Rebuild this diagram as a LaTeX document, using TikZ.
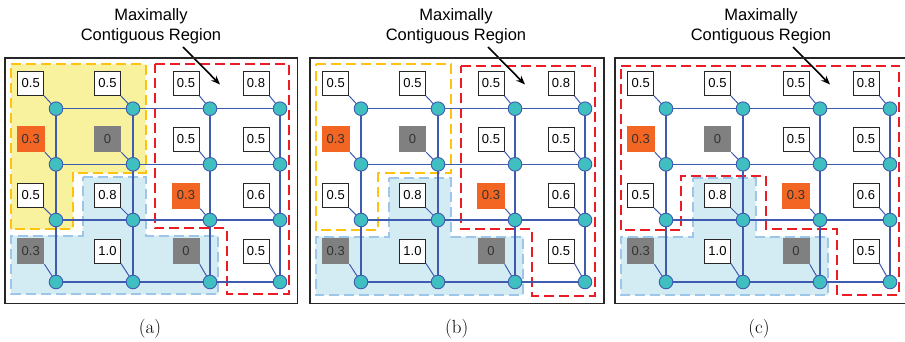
\documentclass[tikz,border=0pt]{standalone}
\usepackage{fontspec}
\newfontfamily\arial{Liberation Sans}
\usetikzlibrary{arrows.meta}
\definecolor{gridblue}{HTML}{3F5BB0}
\definecolor{vtxteal}{HTML}{3FBFC0}
\definecolor{redc}{HTML}{EC1C24}
\definecolor{yelc}{HTML}{FFC20E}
\definecolor{yelfill}{HTML}{F8F29E}
\definecolor{bluefill}{HTML}{D3ECF4}
\definecolor{bluedashc}{HTML}{9EC6E8}
\definecolor{orangec}{HTML}{F26522}
\definecolor{grayc}{HTML}{808080}
\tikzset{
  gridline/.style={draw=gridblue, line width=1.2pt},
  vtx/.style={circle, fill=vtxteal, draw=gridblue, line width=0.9pt, minimum size=13.6pt, inner sep=0pt},
  lbl/.style={inner sep=0pt, font=\arial\fontsize{13}{15}\selectfont},
  wbox/.style={lbl, draw=black!85, fill=white, line width=0.9pt, minimum width=26pt, minimum height=24pt},
  obox/.style={lbl, fill=orangec, text=black!80, minimum width=28pt, minimum height=26pt},
  gbox/.style={lbl, fill=grayc, text=black!80, minimum width=27pt, minimum height=26pt},
  reddash/.style={draw=redc, line width=2pt, dash pattern=on 10pt off 5pt},
  yeldash/.style={draw=yelc, line width=2pt, dash pattern=on 10pt off 5pt},
  bluedash/.style={draw=bluedashc, line width=2pt, dash pattern=on 10pt off 5pt},
  frame/.style={draw=black!85, line width=1.2pt},
  titletext/.style={inner sep=0pt, align=center, font=\arial\fontsize{16.5}{20.5}\selectfont},
  captext/.style={inner sep=0pt, font=\fontsize{19}{22}\selectfont},
  pointer/.style={draw=black, line width=1.6pt, -{Stealth[length=9pt,width=7pt]}},
}
\newcommand{\gridpanel}[1]{%
  % circles
  \foreach \r/\cy in {1/108.7,2/164.3,3/220,4/282}{
    \foreach \c/\cx in {1/51,2/128,3/205,4/275}{
      \coordinate (#1v\r\c) at (\cx,\cy);
    }
  }
  % grid lines
  \foreach \r in {1,...,4}{
    \draw[gridline] (#1v\r1) -- (#1v\r2) -- (#1v\r3) -- (#1v\r4);
    \draw[gridline] (#1v1\r) -- (#1v2\r) -- (#1v3\r) -- (#1v4\r);
  }
  % label boxes
  \foreach \r/\by in {1/83.5,2/139,3/195.5,4/251}{
    \foreach \c/\bx in {1/25.7,2/102.5,3/181,4/251}{
      \coordinate (#1p\r\c) at (\bx,\by);
    }
  }
  \node[wbox] (#1b11) at (#1p11) {0.5};
  \node[wbox] (#1b12) at (#1p12) {0.5};
  \node[wbox] (#1b13) at (#1p13) {0.5};
  \node[wbox] (#1b14) at (#1p14) {0.8};
  \node[obox] (#1b21) at (#1p21) {0.3};
  \node[gbox] (#1b22) at (#1p22) {0};
  \node[wbox] (#1b23) at (#1p23) {0.5};
  \node[wbox] (#1b24) at (#1p24) {0.5};
  \node[wbox] (#1b31) at (#1p31) {0.5};
  \node[wbox] (#1b32) at (#1p32) {0.8};
  \node[obox] (#1b33) at (#1p33) {0.3};
  \node[wbox] (#1b34) at (#1p34) {0.6};
  \node[gbox] (#1b41) at (#1p41) {0.3};
  \node[wbox] (#1b42) at (#1p42) {1.0};
  \node[gbox] (#1b43) at (#1p43) {0};
  \node[wbox] (#1b44) at (#1p44) {0.5};
  \foreach \r in {1,...,4}{
    \foreach \c in {1,...,4}{
      \draw[gridblue, line width=1pt] (#1b\r\c.south east) -- (#1v\r\c);
      \node[vtx] (#1n\r\c) at (#1v\r\c) {};
    }
  }
  % title, arrow
  \node[titletext, anchor=north] (#1title) at (146,8.2) {Maximally\\Contiguous Region};
  \coordinate (#1as) at (178,47);
  \coordinate (#1ae) at (215,84.5);
  \draw[pointer] (#1as) -- (#1ae);
}
\begin{document}
\begin{tikzpicture}[x=1pt,y=-1pt]
\useasboundingbox (0,0) rectangle (905,342);
\fill[white] (0,0) rectangle (905,342);
% ---------- panel (a)
\begin{scope}[xshift=5pt]
  \fill[yelfill] (6,64.5) -- (140.7,64.5) -- (140.7,172.5) -- (67.7,172.5) -- (67.7,229.3) -- (6,229.3) -- cycle;
  \fill[bluefill] (77.7,177.3) -- (140.7,177.3) -- (140.7,235.7) -- (213.3,235.7) -- (213.3,294.3) -- (6,294.3) -- (6,235.7) -- (77.7,235.7) -- cycle;
  \draw[yeldash] (6,64.5) -- (140.7,64.5) -- (140.7,172.5) -- (67.7,172.5) -- (67.7,229.3) -- (6,229.3) -- cycle;
  \draw[bluedash] (77.7,177.3) -- (140.7,177.3) -- (140.7,235.7) -- (213.3,235.7) -- (213.3,294.3) -- (6,294.3) -- (6,235.7) -- (77.7,235.7) -- cycle;
  \draw[reddash] (150,64.5) -- (284.3,64.5) -- (284.3,294.3) -- (221.7,294.3) -- (221.7,228.3) -- (150,228.3) -- cycle;
  \gridpanel{a}
  \draw[frame] (0,58) rectangle (292.5,303.3);
  \node[captext, anchor=base] (capa) at (145,333.5) {(a)};
\end{scope}
% ---------- panel (b)
\begin{scope}[xshift=310pt]
  \fill[bluefill] (79,178.3) -- (140.7,178.3) -- (140.7,236.7) -- (213.3,236.7) -- (213.3,295) -- (5.7,295) -- (5.7,236.7) -- (79,236.7) -- cycle;
  \draw[yeldash] (5.7,64.3) -- (140.7,64.3) -- (140.7,173.3) -- (68.3,173.3) -- (68.3,230) -- (5.7,230) -- cycle;
  \draw[bluedash] (79,178.3) -- (140.7,178.3) -- (140.7,236.7) -- (213.3,236.7) -- (213.3,295) -- (5.7,295) -- (5.7,236.7) -- (79,236.7) -- cycle;
  \draw[reddash] (151,65.7) -- (285,65.7) -- (285,295.5) -- (222.3,295.5) -- (222.3,229) -- (151,229) -- cycle;
  \gridpanel{b}
  \draw[frame] (0,58) rectangle (294,303.3);
  \node[captext, anchor=base] (capb) at (146.7,333.5) {(b)};
\end{scope}
% ---------- panel (c)
\begin{scope}[xshift=615pt]
  \fill[bluefill] (78.3,178.3) -- (140.7,178.3) -- (140.7,236.7) -- (213.3,236.7) -- (213.3,295) -- (5.7,295) -- (5.7,236.7) -- (78.3,236.7) -- cycle;
  \draw[bluedash] (78.3,178.3) -- (140.7,178.3) -- (140.7,236.7) -- (213.3,236.7) -- (213.3,295) -- (5.7,295) -- (5.7,236.7) -- (78.3,236.7) -- cycle;
  \draw[reddash] (5.7,65.7) -- (284,65.7) -- (284,295) -- (221.7,295) -- (221.7,229.3) -- (150.7,229.3) -- (150.7,175.7) -- (66,175.7) -- (66,230) -- (5.7,230) -- cycle;
  \gridpanel{c}
  \draw[frame] (0,58) rectangle (294,303.3);
  \node[captext, anchor=base] (capc) at (144,333.5) {(c)};
\end{scope}
\end{tikzpicture}
\end{document}
